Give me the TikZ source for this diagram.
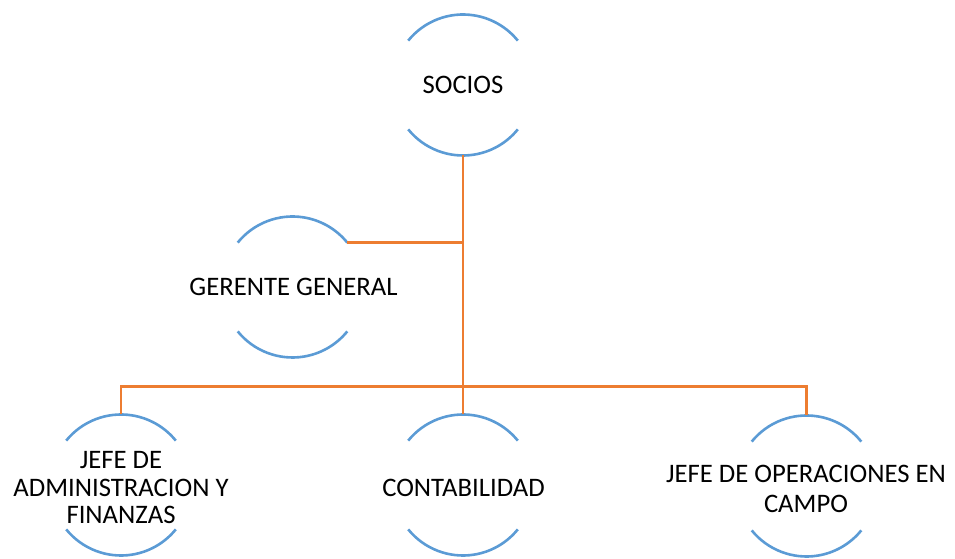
\documentclass[tikz,border=0pt]{standalone}
\usepackage{fontspec}
\setmainfont{Carlito}
\definecolor{arcblue}{HTML}{5B9BD5}
\definecolor{lineorange}{HTML}{ED7D31}
\begin{document}
\begin{tikzpicture}[x=1pt,y=1pt,
  orgnode/.style={inner sep=0pt,outer sep=0pt,draw=none,align=center,
    font=\fontsize{26.7}{28}\selectfont},
  arcline/.style={draw=arcblue,line width=2.6pt},
  conn/.style={draw=lineorange,line width=2.6pt}]
\useasboundingbox (0,0) rectangle (955,559);
\node[orgnode] (socios) at (463,474) {SOCIOS};
\node[orgnode] (gerente) at (293.5,272.5) {GERENTE GENERAL};
\node[orgnode,font=\fontsize{26.7}{27.5}\selectfont] (jadmin) at (121,71) {JEFE DE\\ADMINISTRACION Y\\FINANZAS};
\node[orgnode] (conta) at (463.5,71.5) {CONTABILIDAD};
\node[orgnode,font=\fontsize{26.7}{30}\selectfont] (jop) at (806,70.5) {JEFE DE OPERACIONES EN\\CAMPO};
\foreach \n/\cx/\cy in {socios/463/474,gerente/292.5/272,jadmin/121/74,conta/463/74,jop/806.5/73}{
  \coordinate (\n-c) at (\cx,\cy);
  \coordinate (\n-n) at ([yshift=70.5pt]\n-c);
  \coordinate (\n-s) at ([yshift=-70.5pt]\n-c);
  \coordinate (\n-ne) at ([shift={(39:70.5pt)}]\n-c);
  \draw[arcline] ([shift={(141:70.5pt)}]\n-c) arc[start angle=141,end angle=39,radius=70.5pt];
  \draw[arcline] ([shift={(219:70.5pt)}]\n-c) arc[start angle=219,end angle=321,radius=70.5pt];
}
\coordinate (bus) at (463,172.3);
\draw[conn] (socios-s) -- (bus);
\draw[conn] (gerente-ne) -- (gerente-ne -| socios-s);
\draw[conn] (jadmin-n) -- (jadmin-n |- bus) -- (jop-n |- bus) -- (jop-n);
\draw[conn] (conta-n) -- (conta-n |- bus);
\end{tikzpicture}
\end{document}
